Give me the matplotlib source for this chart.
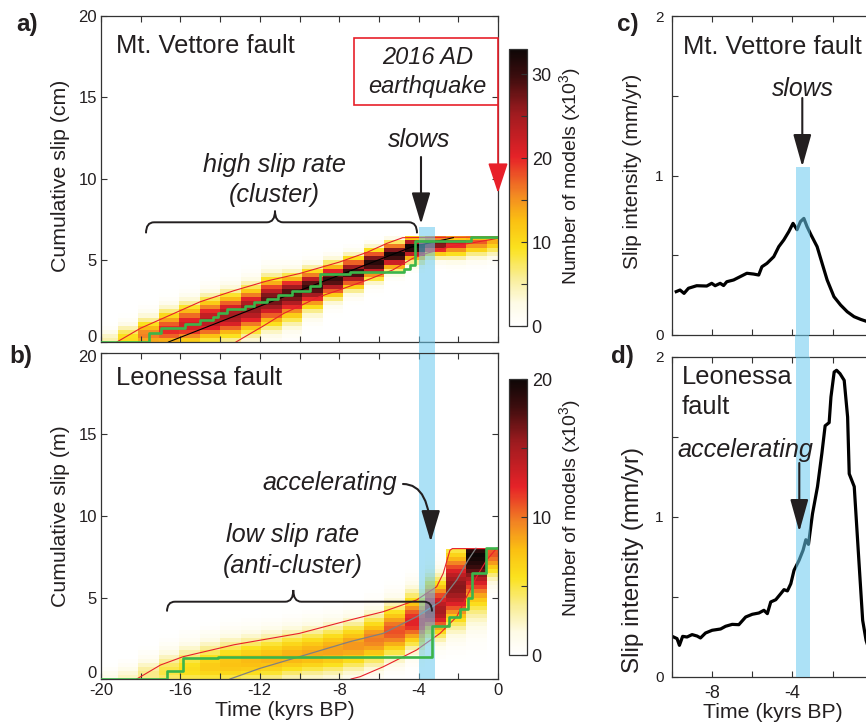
import numpy as np
import matplotlib
matplotlib.use("Agg")
import matplotlib.pyplot as plt
from matplotlib.colors import LinearSegmentedColormap
from matplotlib.patches import Rectangle, PathPatch, FancyArrowPatch
from matplotlib.path import Path

plt.rcParams.update({
    "font.family": ["Liberation Sans", "DejaVu Sans"],
    "axes.unicode_minus": False,
    "mathtext.fontset": "custom",
    "mathtext.rm": "Liberation Sans",
    "mathtext.it": "Liberation Sans:italic",
})

# ---------------- DATA ----------------
# time bins (kyrs BP) of the model-density histograms
time_edges = [-20, -19.146, -18.114, -17.082, -16.05, -15.018, -13.986, -12.954,
              -11.922, -10.89, -9.858, -8.826, -7.794, -6.762, -5.73, -4.698, -3.666,
              -2.634, -1.602, -0.57, 0]
slip_step = 0.25
max_slip_a = 6.5   # cm
max_slip_b = 8.0   # m

# Mt. Vettore density per time bin: peak location, lower / upper spread, peak count (x10^3)
a_center = [0.1, 0.2, 0.45, 0.75, 1.05, 1.35, 1.65, 2.05, 2.6, 3.0, 3.4, 3.85, 4.3,
            4.85, 5.35, 5.8, 6.05, 6.15, 6.25, 6.3]
a_sig_lo = [0.4, 0.5, 0.6, 0.7, 0.8, 0.85, 0.9, 0.95, 1.0, 1.0, 0.85, 0.7, 0.65,
            0.6, 0.55, 0.5, 0.5, 0.6, 0.6, 0.6]
a_sig_hi = [0.4, 0.55, 0.65, 0.75, 0.8, 0.85, 0.85, 0.85, 0.85, 0.7, 0.65, 0.6, 0.55,
            0.5, 0.45, 0.4, 0.3, 0.2, 0.15, 0.12]
a_peak = [5, 10, 16, 20, 22, 24, 25, 26, 28, 29, 30, 30, 30, 31, 32, 33, 28, 22, 18, 14]

# Leonessa density per time bin
b_center = [0.0, 0.05, 0.25, 0.45, 0.6, 0.75, 0.9, 1.05, 1.2, 1.4, 1.55, 1.75, 2.0,
            2.4, 2.9, 3.5, 4.2, 5.6, 7.75, 7.8]
b_sig_lo = [0.35, 0.45, 0.55, 0.65, 0.75, 0.8, 0.85, 0.9, 0.9, 0.9, 0.9, 0.95, 0.95,
            1.0, 1.0, 1.0, 1.0, 1.4, 2.0, 1.0]
b_sig_hi = [0.4, 0.5, 0.65, 0.8, 0.9, 0.95, 1.0, 1.0, 1.0, 1.0, 1.0, 1.0, 1.0,
            1.0, 1.05, 1.1, 1.2, 1.5, 0.4, 0.3]
b_peak = [1.5, 2.5, 3.8, 5.0, 6.0, 7.0, 7.5, 7.8, 8.0, 8.2, 8.4, 8.6, 9.0, 9.8, 11.0,
          12.5, 15.0, 16.0, 20.0, 11.0]

# Mt. Vettore: bounds, median and observed slip history (cm)
a_upper_t = [-19.2, -18, -16.7, -15, -13.3, -11.65, -10, -8, -6.6, -5.6, -4.8, 0]
a_upper_s = [0, 0.85, 1.55, 2.47, 3.15, 3.74, 4.2, 4.9, 5.5, 6.05, 6.4, 6.45]
a_lower_t = [-13.2, -11.8, -10.8, -10, -9, -8, -6.6, -5.3, -4.3, -3.6, -2.4, 0]
a_lower_s = [0, 1.0, 1.75, 2.2, 2.78, 3.19, 3.8, 4.42, 5.13, 5.44, 5.85, 6.36]
a_median_t = [-16.6, -10, -4.3, -2.25]
a_median_s = [0, 3.15, 5.85, 6.4]
a_obs_t = [-20, -17.6, -17.0, -15.77, -15.0, -14.35, -14.1, -13.67, -12.75, -12.3,
           -11.65, -11.07, -10.4, -9.47, -8.97, -7.46, -4.75, -4.45, -4.18, -1.35, 0]
a_obs_s = [0, 0.57, 0.84, 1.1, 1.35, 1.55, 1.76, 2.0, 2.2, 2.47, 2.64, 2.88, 3.15,
           3.44, 4.17, 4.31, 4.5, 4.72, 6.2, 6.42, 6.42]

# Leonessa: bounds, median and observed slip history (m)
b_upper_t = [-18.2, -17, -15.86, -13.3, -10, -7.46, -5.78, -4.1, -3.09, -2.76, -2.42, -2.3, 0]
b_upper_s = [0, 0.86, 1.37, 2.1, 2.8, 3.62, 4.13, 4.85, 5.66, 6.48, 7.9, 8.0, 8.0]
b_lower_t = [-7.4, -6.95, -5.78, -4.1, -2.92, -2.08, -1.58, -1.07, -0.57, -0.07, 0]
b_lower_s = [0, 0.14, 0.75, 1.78, 2.8, 3.82, 5.05, 6.28, 7.3, 8.02, 8.05]
b_median_t = [-13.5, -12, -10, -7.46, -5.78, -4.1, -2.92, -2.08, -1.5, -1.11]
b_median_s = [0, 0.65, 1.37, 2.29, 2.8, 3.82, 4.74, 6.07, 7.3, 8.02]
b_obs_t = [-20, -16.7, -15.86, -14.1, -3.32, -2.45, -1.92, -1.5, -1.3, -0.58, 0]
b_obs_s = [0, 0.5, 1.27, 1.37, 3.25, 3.8, 4.3, 5.0, 6.5, 8.05, 8.05]

# slip intensity (mm/yr)
c_time = [-9.79, -9.6, -9.4, -9.18, -8.77, -8.27, -8.02, -7.85, -7.6, -7.43, -7.27,
          -6.93, -6.6, -6.27, -5.93, -5.68, -5.52, -5.27, -4.93, -4.68, -4.43, -4.18,
          -3.97, -3.77, -3.6, -3.43, -3.27, -3.07, -2.77, -2.52, -2.27, -1.93, -1.6,
          -1.27, -0.93, -0.6, -0.27, 0.0]
c_intensity = [0.272, 0.282, 0.261, 0.293, 0.309, 0.307, 0.324, 0.309, 0.324, 0.31,
               0.334, 0.345, 0.366, 0.387, 0.382, 0.376, 0.428, 0.449, 0.491, 0.554,
               0.596, 0.648, 0.70, 0.66, 0.711, 0.731, 0.679, 0.627, 0.554, 0.449,
               0.345, 0.24, 0.188, 0.146, 0.115, 0.098, 0.084, 0.08]
d_time = [-9.92, -9.75, -9.63, -9.47, -9.25, -9.0, -8.75, -8.58, -8.33, -8.0, -7.58,
          -7.33, -7.0, -6.67, -6.33, -6.0, -5.67, -5.42, -5.25, -5.08, -4.83, -4.58,
          -4.42, -4.25, -4.08, -3.92, -3.67, -3.47, -3.33, -3.2, -3.0, -2.75, -2.53,
          -2.37, -2.17, -2.08, -1.92, -1.8, -1.63, -1.42, -1.25, -1.17, -0.92, -0.7,
          -0.5, -0.33, 0.0]
d_intensity = [0.25, 0.24, 0.198, 0.254, 0.25, 0.265, 0.256, 0.244, 0.275, 0.292, 0.3,
               0.317, 0.329, 0.327, 0.375, 0.392, 0.4, 0.417, 0.396, 0.469, 0.483,
               0.521, 0.546, 0.538, 0.583, 0.667, 0.729, 0.792, 0.858, 0.829, 1.02,
               1.19, 1.40, 1.57, 1.59, 1.75, 1.906, 1.917, 1.896, 1.854, 1.625, 1.27,
               1.19, 0.75, 0.354, 0.229, 0.1]

band_a = (-3.96, -3.17)      # kyrs BP, shaded interval, left panels
band_c = (-3.84, -3.12)      # kyrs BP, shaded interval, right panels
band_c_top = 1.055

a_ticks_y = [0, 5, 10, 15, 20]
cbar_a_ticks = [0, 5, 10, 15, 20, 25, 30]
cbar_b_ticks = [0, 5, 10, 15, 20]

# ---------------- STYLE / LAYOUT ----------------
W, H = 866, 725
fig = plt.figure(figsize=(W / 100, H / 100), dpi=100)


def P(x, y):
    return (x / W, 1 - y / H)


def rect(x0, y0, x1, y1):
    return [x0 / W, 1 - y1 / H, (x1 - x0) / W, (y1 - y0) / H]


cmap = LinearSegmentedColormap.from_list("models", [
    (0.0, "#FFFFFF"), (0.08, "#FEFBE6"), (0.17, "#F9EE9A"), (0.28, "#FBE21E"),
    (0.38, "#FBC012"), (0.48, "#F28423"), (0.61, "#E62228"), (0.77, "#9E1B1F"),
    (0.9, "#3D0D0E"), (1.0, "#0D0606")])

RED = "#E8202A"
GREEN = "#3BB54A"
BAND = "#68CAEF"
BAND_ALPHA = 0.55
SPINE = "#333333"
DARK = "#231F20"

ax_a = fig.add_axes(rect(101, 16, 498, 342))
ax_b = fig.add_axes(rect(101, 353, 498, 679))
cax_a = fig.add_axes(rect(509, 49, 527, 326))
cax_b = fig.add_axes(rect(509, 379, 527, 655))
ax_c = fig.add_axes(rect(672, 16, 872.7, 335))
ax_d = fig.add_axes(rect(672, 357, 872.7, 677))


def density(center, slo, shi, peak, smax):
    edges = np.arange(0, smax + slip_step / 2, slip_step)
    mid = (edges[:-1] + edges[1:]) / 2
    Z = np.zeros((len(mid), len(center)))
    for j in range(len(center)):
        sig = np.where(mid < center[j], slo[j], shi[j])
        Z[:, j] = peak[j] * np.exp(-0.5 * ((mid - center[j]) / sig) ** 2)
    return edges, Z


def style(ax, size, pad):
    for s in ax.spines.values():
        s.set_color(SPINE)
        s.set_linewidth(0.9)
    ax.tick_params(which="both", direction="in", top=True, right=True, length=4,
                   width=0.8, color=SPINE, labelsize=size, pad=pad, labelcolor=DARK)


# ---- panel a ----
ea, Za = density(a_center, a_sig_lo, a_sig_hi, a_peak, max_slip_a)
ma = ax_a.pcolormesh(time_edges, ea, Za, cmap=cmap, vmin=0, vmax=33, shading="flat",
                     antialiased=False, linewidth=0, zorder=1)
ax_a.plot(a_upper_t, a_upper_s, color=RED, lw=0.8, zorder=2)
ax_a.plot(a_lower_t, a_lower_s, color=RED, lw=0.8, zorder=2)
ax_a.plot(a_median_t, a_median_s, color="black", lw=0.8, zorder=2)
ax_a.axvspan(*band_a, ymin=0, ymax=7.06 / 20, color=BAND, alpha=BAND_ALPHA, lw=0, zorder=2.5)
ax_a.plot(a_obs_t, a_obs_s, color=GREEN, lw=1.9, drawstyle="steps-post", zorder=3)
ax_a.set_xlim(-20, 0)
ax_a.set_ylim(0, 20)
ax_a.set_xticks(np.arange(-20, 1, 2))
ax_a.set_xticklabels([])
ax_a.set_yticks(a_ticks_y)
ax_a.set_yticklabels([""] + [str(v) for v in a_ticks_y[1:]])
style(ax_a, 12, 3)

# ---- panel b ----
eb, Zb = density(b_center, b_sig_lo, b_sig_hi, b_peak, max_slip_b)
mb = ax_b.pcolormesh(time_edges, eb, Zb, cmap=cmap, vmin=0, vmax=20, shading="flat",
                     antialiased=False, linewidth=0, zorder=1)
ax_b.plot(b_upper_t, b_upper_s, color=RED, lw=0.8, zorder=2)
ax_b.plot(b_lower_t, b_lower_s, color=RED, lw=0.8, zorder=2)
ax_b.plot(b_median_t, b_median_s, color="#808080", lw=0.9, zorder=2)
ax_b.axvspan(*band_a, color=BAND, alpha=BAND_ALPHA, lw=0, zorder=2.5)
ax_b.plot(b_obs_t, b_obs_s, color=GREEN, lw=1.9, drawstyle="steps-post", zorder=3)
ax_b.set_xlim(-20, 0)
ax_b.set_ylim(0, 20)
xt = np.arange(-20, 1, 2)
ax_b.set_xticks(xt)
ax_b.set_xticklabels([str(v) if v % 4 == 0 else "" for v in xt])
ax_b.set_yticks(a_ticks_y)
ax_b.set_yticklabels([""] + [str(v) for v in a_ticks_y[1:-1]] + [""])
style(ax_b, 12, 3)

# gap between a and b
fig.add_artist(Rectangle(P(419.3, 353), 15.7 / W, 11 / H, transform=fig.transFigure,
                         facecolor=BAND, alpha=BAND_ALPHA, lw=0))

# ---- colorbars ----
for cax, m, ticks in ((cax_a, ma, cbar_a_ticks), (cax_b, mb, cbar_b_ticks)):
    cb = fig.colorbar(m, cax=cax)
    cb.set_ticks(ticks, labels=[str(t) if t % 10 == 0 else "" for t in ticks])
    cb.outline.set_edgecolor(SPINE)
    cb.outline.set_linewidth(0.9)
    cax.tick_params(direction="in", length=4, width=0.8, color=SPINE, labelsize=13,
                    pad=3.4, labelcolor=DARK)

# ---- panel c ----
ax_c.plot(c_time, c_intensity, color="black", lw=2.3, zorder=2, solid_joinstyle="round")
ax_c.axvspan(*band_c, ymin=0, ymax=band_c_top / 2, color=BAND, alpha=BAND_ALPHA, lw=0, zorder=3)
ax_c.set_xlim(-10, 0)
ax_c.set_ylim(0, 2)
ax_c.set_xticks(np.arange(-10, 1, 2))
ax_c.set_xticklabels([])
ax_c.set_yticks([0, 0.5, 1, 1.5, 2])
ax_c.set_yticklabels(["0", "", "1", "", "2"])
style(ax_c, 11, 6)

# ---- panel d ----
ax_d.plot(d_time, d_intensity, color="black", lw=2.3, zorder=2, solid_joinstyle="round")
ax_d.axvspan(*band_c, color=BAND, alpha=BAND_ALPHA, lw=0, zorder=3)
ax_d.set_xlim(-10, 0)
ax_d.set_ylim(0, 2)
ax_d.set_xticks(np.arange(-10, 1, 2))
ax_d.set_yticks([0, 0.5, 1, 1.5, 2])
ax_d.set_yticklabels(["0", "", "1", "", "2"])
style(ax_d, 11, 6)
ax_d.tick_params(axis="x", labelsize=13, pad=5.5)
ax_d.set_xticklabels(["", "-8", "", "-4", "", "0"])

fig.add_artist(Rectangle(P(795, 357), 14.3 / W, 22 / H, transform=fig.transFigure,
                         facecolor=BAND, alpha=BAND_ALPHA, lw=0))

# ---------------- TEXT ----------------
def T(x, y, s, size, **kw):
    kw.setdefault("ha", "center")
    kw.setdefault("va", "center")
    kw.setdefault("color", DARK)
    fig.text(*P(x, y), s, fontsize=size, **kw)


# y tick labels adjusted away from each other at the panel junction
T(97, 338, "0", 12, ha="right")
T(97, 357, "20", 12, ha="right")
T(97, 673, "0", 12, ha="right")

T(27, 25, "a)", 17.5, weight="bold")
T(21, 357, "b)", 17.5, weight="bold")
T(628, 24, "c)", 17.5, weight="bold")
T(622, 356, "d)", 17.5, weight="bold")

T(61, 176, "Cumulative slip (cm)", 15.3, rotation=90)
T(61, 516, "Cumulative slip (m)", 15.3, rotation=90)
T(285, 710, "Time (kyrs BP)", 15.3)
T(773, 713, "Time (kyrs BP)", 15.3)
T(633, 171, "Slip intensity (mm/yr)", 15, rotation=90)
T(633, 560, "Slip intensity (mm/yr)", 17.5, rotation=90)
T(570, 176, "Number of models (x10$^{3}$)", 14, rotation=90)
T(570, 508, "Number of models (x10$^{3}$)", 14, rotation=90)

T(116, 46, "Mt. Vettore fault", 18.4, ha="left")
T(116, 378, "Leonessa fault", 18.4, ha="left")
T(683, 47, "Mt. Vettore fault", 18.4, ha="left")
T(682, 377, "Leonessa", 18.4, ha="left")
T(682, 407, "fault", 18.4, ha="left")

T(274, 165, "high slip rate", 18.2, style="italic")
T(274, 195, "(cluster)", 18.2, style="italic")
T(419, 140, "slows", 18, style="italic")
T(427.7, 58, "2016 AD", 17, style="italic")
T(427.7, 86, "earthquake", 17, style="italic")
T(330, 483, "accelerating", 18, style="italic")
T(292.7, 535, "low slip rate", 18.2, style="italic")
T(292.7, 566, "(anti-cluster)", 18.2, style="italic")
T(802.5, 89, "slows", 17.8, style="italic")
T(745, 450, "accelerating", 18.2, style="italic")

# red box
fig.add_artist(Rectangle(P(354, 105), 144 / W, 67 / H, transform=fig.transFigure,
                         facecolor="none", edgecolor=RED, lw=1.2))


def arrow(x0, y0, x1, y1, color, hl, hw, lw=1.5, cs="arc3"):
    fig.add_artist(FancyArrowPatch(P(x0, y0), P(x1, y1), transform=fig.transFigure,
                                   arrowstyle=f"-|>,head_length={hl},head_width={hw}",
                                   mutation_scale=20, lw=lw, color=color,
                                   shrinkA=0, shrinkB=0, connectionstyle=cs))


arrow(498, 105, 498, 193, RED, 0.94, 0.31, lw=1.2)
arrow(421, 157, 421, 224, DARK, 0.97, 0.29)
arrow(802.3, 98, 802.3, 166.7, DARK, 1.0, 0.28)
arrow(799.3, 463, 799.3, 531.7, DARK, 1.0, 0.28)
arrow(403, 484, 430.7, 541.7, DARK, 0.97, 0.29, cs="angle3,angleA=0,angleB=90")


def brace(xl, xr, xm, y0, yend, ytip, r=8):
    pts = [(xl, yend), (xl, y0), (xl + r, y0), (xm - r, y0), (xm, y0), (xm, ytip),
           (xm, y0), (xm + r, y0), (xr - r, y0), (xr, y0), (xr, yend)]
    codes = [Path.MOVETO, Path.CURVE3, Path.CURVE3, Path.LINETO, Path.CURVE3, Path.CURVE3,
             Path.CURVE3, Path.CURVE3, Path.LINETO, Path.CURVE3, Path.CURVE3]
    verts = [P(x, y) for x, y in pts]
    fig.add_artist(PathPatch(Path(verts, codes), transform=fig.transFigure,
                             facecolor="none", edgecolor=DARK, lw=1.4))


brace(146, 417, 275, 222.3, 233.3, 210.7)
brace(167, 432, 293.3, 601.7, 611.5, 590)

fig.savefig("out.png", dpi=100)
